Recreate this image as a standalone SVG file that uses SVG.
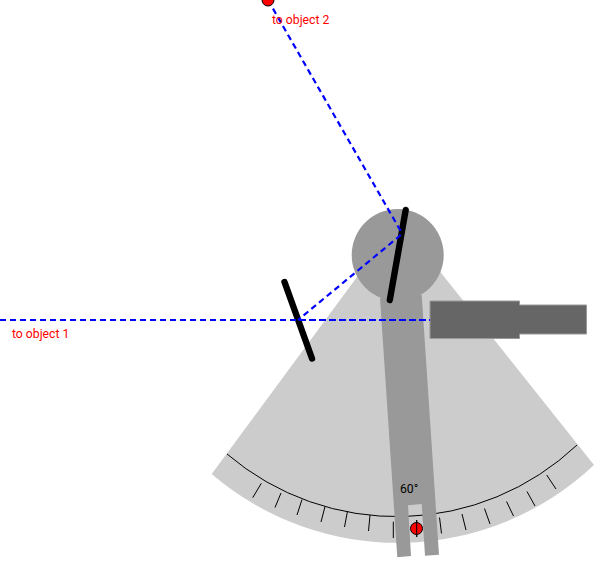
<svg xmlns="http://www.w3.org/2000/svg" width="600" height="570" viewBox="0 0 600 570">
<style>
.lbl{font-family:Roboto,"Liberation Sans",sans-serif;font-size:12.2px}
.red{fill:#f00}
.ray{fill:none;stroke:#00f;stroke-width:2.2;stroke-dasharray:6 4}
.mirror{fill:none;stroke:#000;stroke-width:6.400;stroke-linecap:round}
.tick{stroke:#000;stroke-width:1;fill:none}
.marker{fill:#f00;stroke:#000;stroke-width:1}
.scope{fill:#666;stroke:#999;stroke-width:1}
</style>
<g id="frame">
<path d="M211.700 474 L399 220 L594 465 A286 286 0 0 1 211.700 474 Z" fill="#ccc"/>
<path d="M227 454 A262 262 0 0 0 577 445" fill="none" stroke="#000" stroke-width="1"/>
</g>
<g id="scale">
<path class="tick" d="M252.700 497.700L261.300 483.300M275 507.500L281 493M297 515L302 499.500M321 522L325 506.500M344.500 527L347.500 511M368.500 531L370 515M393.300 538L393.300 521.700M416.700 537L416.700 520M441.500 533.500L439.500 517.500M466 530L462 514M490 524L484.500 508.500M513.500 516L506.500 501.500M535 506L527 491.500M556 489L546.700 475"/>
</g>
<g id="marker-scale"><circle class="marker" cx="416.500" cy="528.500" r="6"/><line class="tick" x1="416.700" y1="520" x2="416.700" y2="537"/></g>
<g id="arm">
<path d="M380 298 L397.300 557.300 L411 556 L408 505.300 L421.700 504 L425 555.700 L439 554.700 L421.700 295 Z" fill="#999"/>
<circle cx="397.700" cy="255" r="46" fill="#999"/>
</g>
<g id="telescope">
<path class="scope" d="M430 301H519.500V305H586.500V334H519.500V338.500H430Z"/>
</g>
<g id="horizon-mirror"><line class="mirror" x1="284.500" y1="282" x2="312" y2="358.500"/></g>
<g id="index-mirror"><line class="mirror" x1="405.700" y1="210" x2="389.800" y2="300"/></g>
<g id="connectors">
<path class="ray" d="M0 320H430"/>
<path class="ray" d="M299 320H430"/>
<path class="ray" d="M268 0L399.500 229Q402.500 233 399 236.500L298 320"/>
</g>
<g id="object-2"><circle class="marker" cx="268" cy="0" r="6"/><text class="lbl red" x="272" y="24">to object 2</text></g>
<g id="object-1"><text class="lbl red" x="12" y="338">to object 1</text></g>
<g id="reading"><text class="lbl" x="400" y="493" fill="#000">60°</text></g>
</svg>
